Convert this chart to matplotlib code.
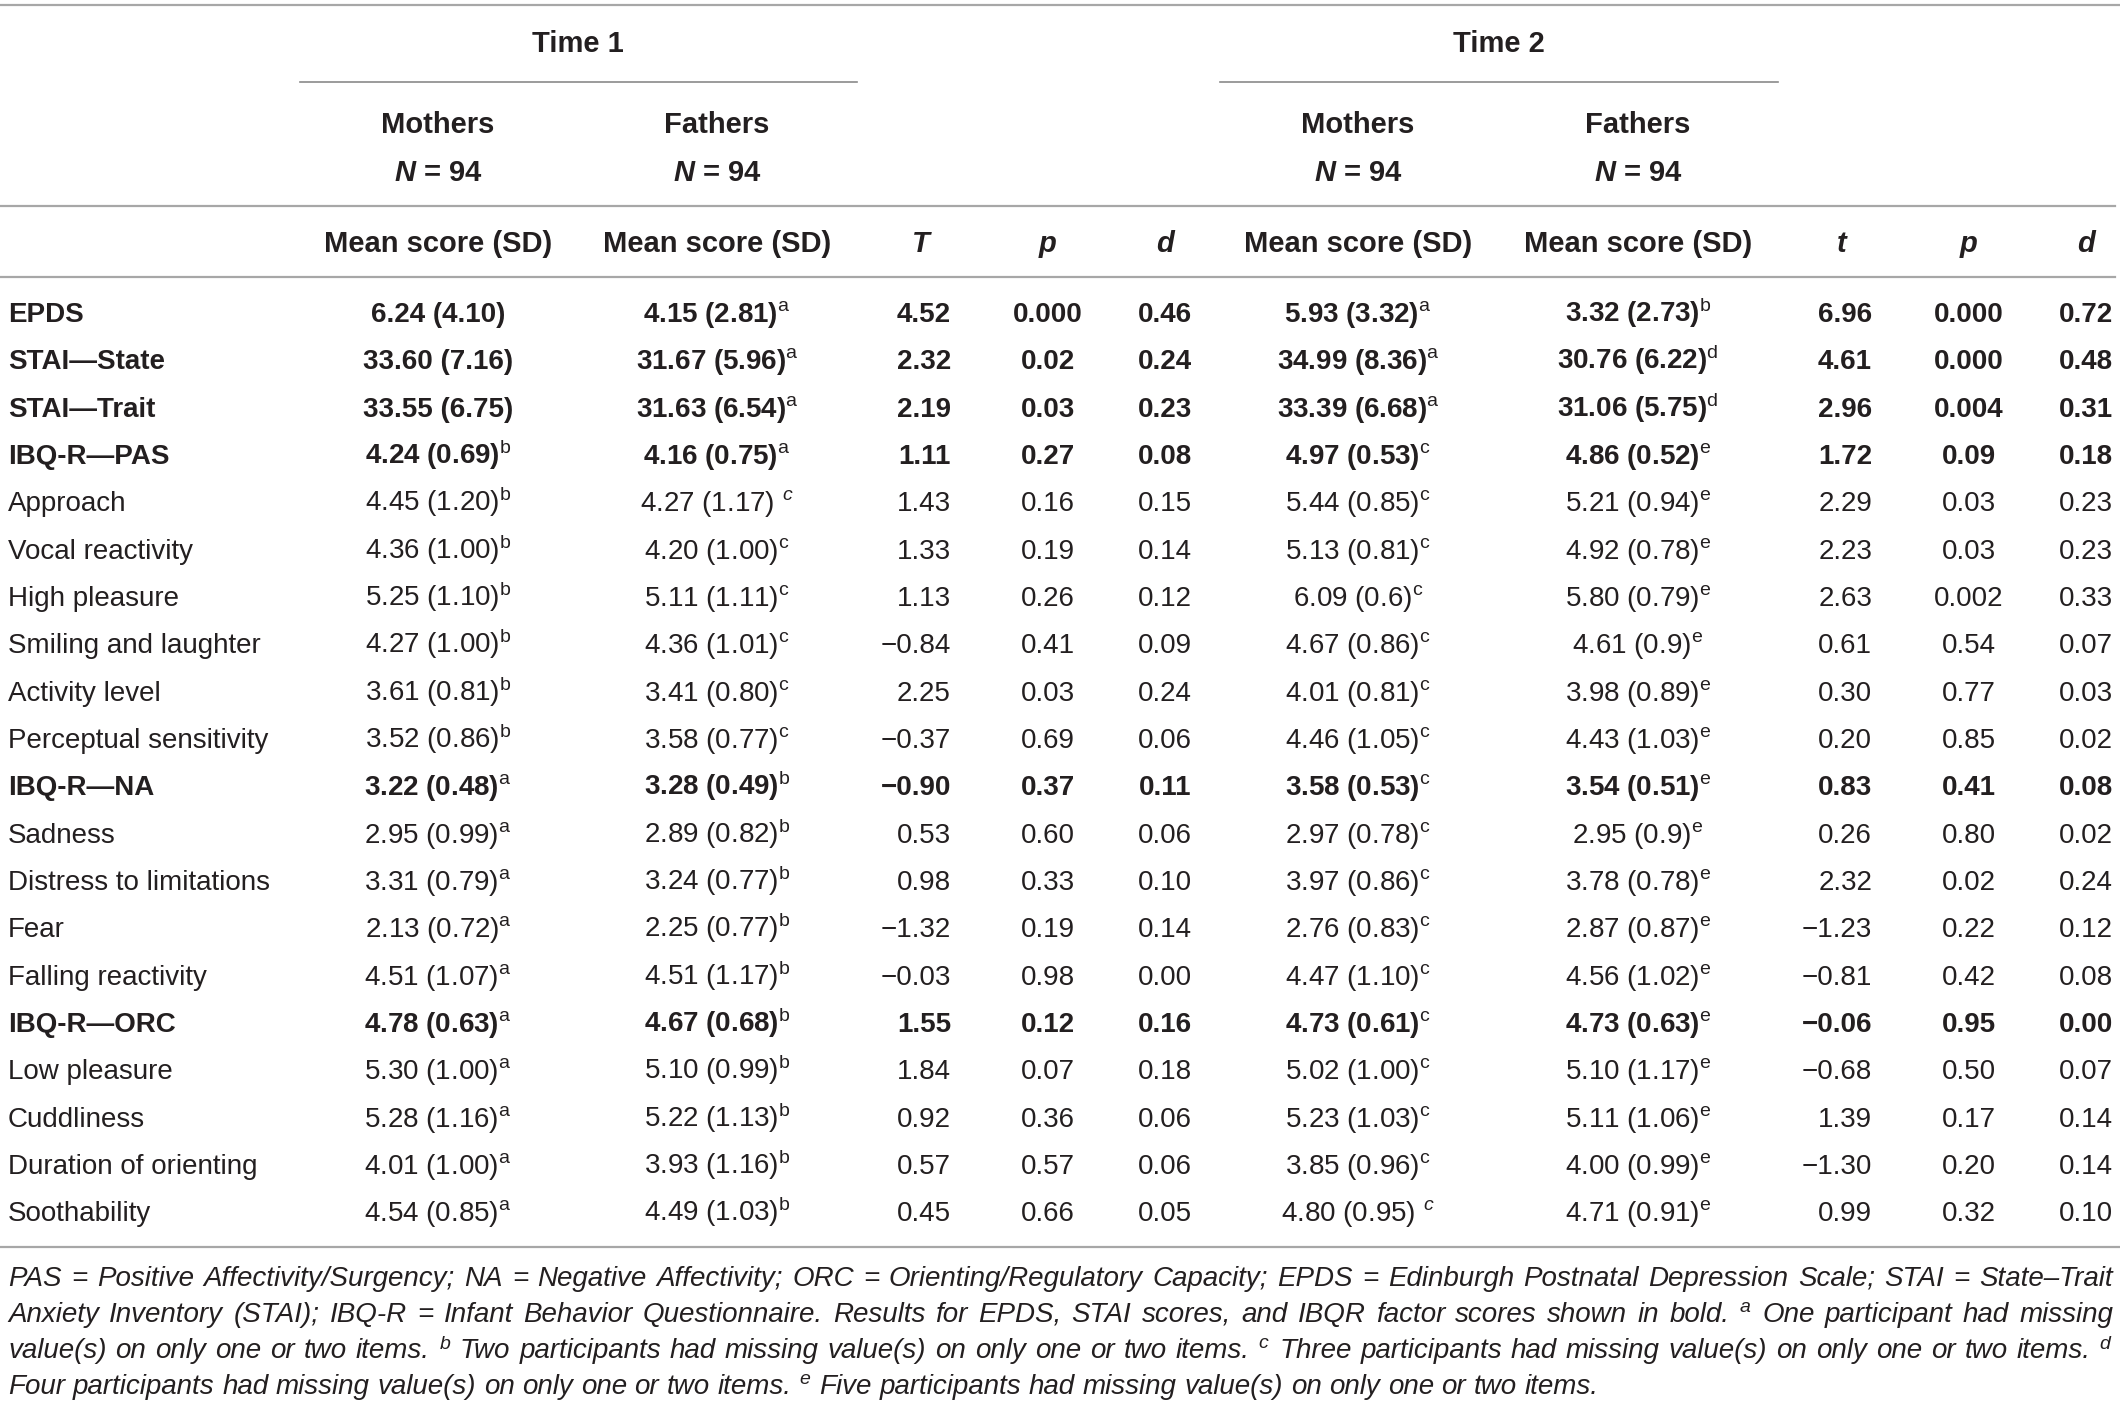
import matplotlib
matplotlib.use("Agg")
import matplotlib.pyplot as plt

plt.rcParams['font.family'] = ['Liberation Sans', 'DejaVu Sans']
plt.rcParams['mathtext.fontset'] = 'custom'
plt.rcParams['mathtext.rm'] = 'Liberation Sans'
plt.rcParams['mathtext.it'] = 'Liberation Sans:italic'
plt.rcParams['mathtext.bf'] = 'Liberation Sans:bold'
plt.rcParams['mathtext.bfit'] = 'Liberation Sans:italic:bold'

# --- donnees du tableau ---
labels = ["EPDS", "STAI\u2014State", "STAI\u2014Trait", "IBQ-R\u2014PAS", "Approach",
          "Vocal reactivity", "High pleasure", "Smiling and laughter", "Activity level",
          "Perceptual sensitivity", "IBQ-R\u2014NA", "Sadness", "Distress to limitations",
          "Fear", "Falling reactivity", "IBQ-R\u2014ORC", "Low pleasure", "Cuddliness",
          "Duration of orienting", "Soothability"]
bold_rows = [1, 1, 1, 1, 0, 0, 0, 0, 0, 0, 1, 0, 0, 0, 0, 1, 0, 0, 0, 0]

t1_mothers = ["6.24 (4.10)", "33.60 (7.16)", "33.55 (6.75)", "4.24 (0.69)", "4.45 (1.20)",
              "4.36 (1.00)", "5.25 (1.10)", "4.27 (1.00)", "3.61 (0.81)", "3.52 (0.86)",
              "3.22 (0.48)", "2.95 (0.99)", "3.31 (0.79)", "2.13 (0.72)", "4.51 (1.07)",
              "4.78 (0.63)", "5.30 (1.00)", "5.28 (1.16)", "4.01 (1.00)", "4.54 (0.85)"]
t1_mothers_sup = ["", "", "", "b", "b", "b", "b", "b", "b", "b",
                  "a", "a", "a", "a", "a", "a", "a", "a", "a", "a"]
t1_fathers = ["4.15 (2.81)", "31.67 (5.96)", "31.63 (6.54)", "4.16 (0.75)", "4.27 (1.17)",
              "4.20 (1.00)", "5.11 (1.11)", "4.36 (1.01)", "3.41 (0.80)", "3.58 (0.77)",
              "3.28 (0.49)", "2.89 (0.82)", "3.24 (0.77)", "2.25 (0.77)", "4.51 (1.17)",
              "4.67 (0.68)", "5.10 (0.99)", "5.22 (1.13)", "3.93 (1.16)", "4.49 (1.03)"]
t1_fathers_sup = ["a", "a", "a", "a", " c", "c", "c", "c", "c", "c",
                  "b", "b", "b", "b", "b", "b", "b", "b", "b", "b"]
t1_T = ["4.52", "2.32", "2.19", "1.11", "1.43", "1.33", "1.13", "\u22120.84", "2.25", "\u22120.37",
        "\u22120.90", "0.53", "0.98", "\u22121.32", "\u22120.03", "1.55", "1.84", "0.92", "0.57", "0.45"]
t1_p = ["0.000", "0.02", "0.03", "0.27", "0.16", "0.19", "0.26", "0.41", "0.03", "0.69",
        "0.37", "0.60", "0.33", "0.19", "0.98", "0.12", "0.07", "0.36", "0.57", "0.66"]
t1_d = ["0.46", "0.24", "0.23", "0.08", "0.15", "0.14", "0.12", "0.09", "0.24", "0.06",
        "0.11", "0.06", "0.10", "0.14", "0.00", "0.16", "0.18", "0.06", "0.06", "0.05"]

t2_mothers = ["5.93 (3.32)", "34.99 (8.36)", "33.39 (6.68)", "4.97 (0.53)", "5.44 (0.85)",
              "5.13 (0.81)", "6.09 (0.6)", "4.67 (0.86)", "4.01 (0.81)", "4.46 (1.05)",
              "3.58 (0.53)", "2.97 (0.78)", "3.97 (0.86)", "2.76 (0.83)", "4.47 (1.10)",
              "4.73 (0.61)", "5.02 (1.00)", "5.23 (1.03)", "3.85 (0.96)", "4.80 (0.95)"]
t2_mothers_sup = ["a", "a", "a", "c", "c", "c", "c", "c", "c", "c",
                  "c", "c", "c", "c", "c", "c", "c", "c", "c", " c"]
t2_fathers = ["3.32 (2.73)", "30.76 (6.22)", "31.06 (5.75)", "4.86 (0.52)", "5.21 (0.94)",
              "4.92 (0.78)", "5.80 (0.79)", "4.61 (0.9)", "3.98 (0.89)", "4.43 (1.03)",
              "3.54 (0.51)", "2.95 (0.9)", "3.78 (0.78)", "2.87 (0.87)", "4.56 (1.02)",
              "4.73 (0.63)", "5.10 (1.17)", "5.11 (1.06)", "4.00 (0.99)", "4.71 (0.91)"]
t2_fathers_sup = ["b", "d", "d", "e", "e", "e", "e", "e", "e", "e",
                  "e", "e", "e", "e", "e", "e", "e", "e", "e", "e"]
t2_t = ["6.96", "4.61", "2.96", "1.72", "2.29", "2.23", "2.63", "0.61", "0.30", "0.20",
        "0.83", "0.26", "2.32", "\u22121.23", "\u22120.81", "\u22120.06", "\u22120.68", "1.39",
        "\u22121.30", "0.99"]
t2_p = ["0.000", "0.000", "0.004", "0.09", "0.03", "0.03", "0.002", "0.54", "0.77", "0.85",
        "0.41", "0.80", "0.02", "0.22", "0.42", "0.95", "0.50", "0.17", "0.20", "0.32"]
t2_d = ["0.72", "0.48", "0.31", "0.18", "0.23", "0.23", "0.33", "0.07", "0.03", "0.02",
        "0.08", "0.02", "0.24", "0.12", "0.08", "0.00", "0.07", "0.14", "0.14", "0.10"]

footnote_lines = [
    "PAS = Positive Affectivity/Surgency; NA = Negative Affectivity; ORC = Orienting/Regulatory "
    "Capacity; EPDS = Edinburgh Postnatal Depression Scale; STAI = State\u2013Trait",
    "Anxiety Inventory (STAI); IBQ-R = Infant Behavior Questionnaire. Results for EPDS, STAI scores, "
    "and IBQR factor scores shown in bold. $^{\\mathit{a}}$ One participant had missing",
    "value(s) on only one or two items. $^{\\mathit{b}}$ Two participants had missing value(s) on only "
    "one or two items. $^{\\mathit{c}}$ Three participants had missing value(s) on only one or two items. $^{\\mathit{d}}$",
    "Four participants had missing value(s) on only one or two items. $^{\\mathit{e}}$ Five participants "
    "had missing value(s) on only one or two items.",
]

# --- mise en page (pixels) ---
W, H = 2120, 1408
FS = 20
FS_HEAD = 21
FS_NOTE = 20
TXT = "#231f20"
RULE = "#a7a7a7"


def baseline(yc, fs=FS):
    # centre des chiffres -> ligne de base
    return yc + 0.358 * fs * 100 / 72


fig = plt.figure(figsize=(W / 100, H / 100), dpi=100)
ax = fig.add_axes([0, 0, 1, 1])
ax.set_xlim(0, W)
ax.set_ylim(H, 0)
ax.axis("off")

# filets horizontaux
ax.plot([0, W], [5, 5], color=RULE, lw=1.6)
ax.plot([300, 857], [82, 82], color="#8a8a8a", lw=1.2)
ax.plot([1220, 1778], [82, 82], color="#8a8a8a", lw=1.2)
ax.plot([0, 2115], [206, 206], color=RULE, lw=1.6)
ax.plot([0, 2115], [277, 277], color=RULE, lw=1.6)
ax.plot([0, W], [1247, 1247], color=RULE, lw=1.6)

# en-tetes
hb = dict(fontsize=FS_HEAD, color=TXT, weight="bold", ha="center", va="baseline")
ax.text(578, baseline(42, FS_HEAD), "Time 1", **hb)
ax.text(1499, baseline(42, FS_HEAD), "Time 2", **hb)
for xc in [438, 717, 1358, 1638]:
    ax.text(xc, baseline(123, FS_HEAD), "Mothers" if xc in (438, 1358) else "Fathers", **hb)
    ax.text(xc, baseline(171, FS_HEAD), r"$\mathbfit{N}$ = 94", **hb)
    ax.text(xc, baseline(242, FS_HEAD), "Mean score (SD)", **hb)
for xc, s in [(921, "T"), (1048, "p"), (1165, "d"), (1842, "t"), (1969, "p"), (2086, "d")]:
    ax.text(xc, baseline(242, FS_HEAD), s, style="italic", **hb)

# colonnes
col_cells = [(438, "center", t1_mothers, t1_mothers_sup), (717, "center", t1_fathers, t1_fathers_sup),
             (951, "right", t1_T, None), (1048, "center", t1_p, None), (1165, "center", t1_d, None),
             (1358, "center", t2_mothers, t2_mothers_sup), (1638, "center", t2_fathers, t2_fathers_sup),
             (1872, "right", t2_t, None), (1969, "center", t2_p, None), (2086, "center", t2_d, None)]

for i, lab in enumerate(labels):
    y = baseline(312 + i * 47.33)
    w = "bold" if bold_rows[i] else "normal"
    ax.text(8, y, lab, fontsize=FS, color=TXT, weight=w, ha="left", va="baseline")
    for xc, ha, vals, sups in col_cells:
        s = vals[i]
        if sups is not None and sups[i]:
            sp = sups[i]
            if sp.startswith(" "):
                s = s + r" $^{\mathit{" + sp.strip() + "}}$"
            else:
                s = s + r"$^{\mathrm{" + sp + "}}$"
        ax.text(xc, y, s, fontsize=FS, color=TXT, weight=w, ha=ha, va="baseline")

# note de bas de tableau, justifiee
fig.canvas.draw()
renderer = fig.canvas.get_renderer()
x0, x1 = 8, 2113
for k, line in enumerate(footnote_lines):
    y = baseline(1276 + k * 36, FS_NOTE)
    words = line.split(" ")
    texts = [ax.text(0, y, wd, fontsize=FS_NOTE, color=TXT, style="italic", ha="left", va="baseline")
             for wd in words]
    widths = [t.get_window_extent(renderer).width for t in texts]
    if k < len(footnote_lines) - 1:
        gap = (x1 - x0 - sum(widths)) / (len(words) - 1)
    else:
        gap = 0.278 * FS_NOTE * 100 / 72
    x = x0
    for t, wd in zip(texts, widths):
        t.set_x(x)
        x += wd + gap

fig.savefig("out.png", dpi=100, facecolor="white")
